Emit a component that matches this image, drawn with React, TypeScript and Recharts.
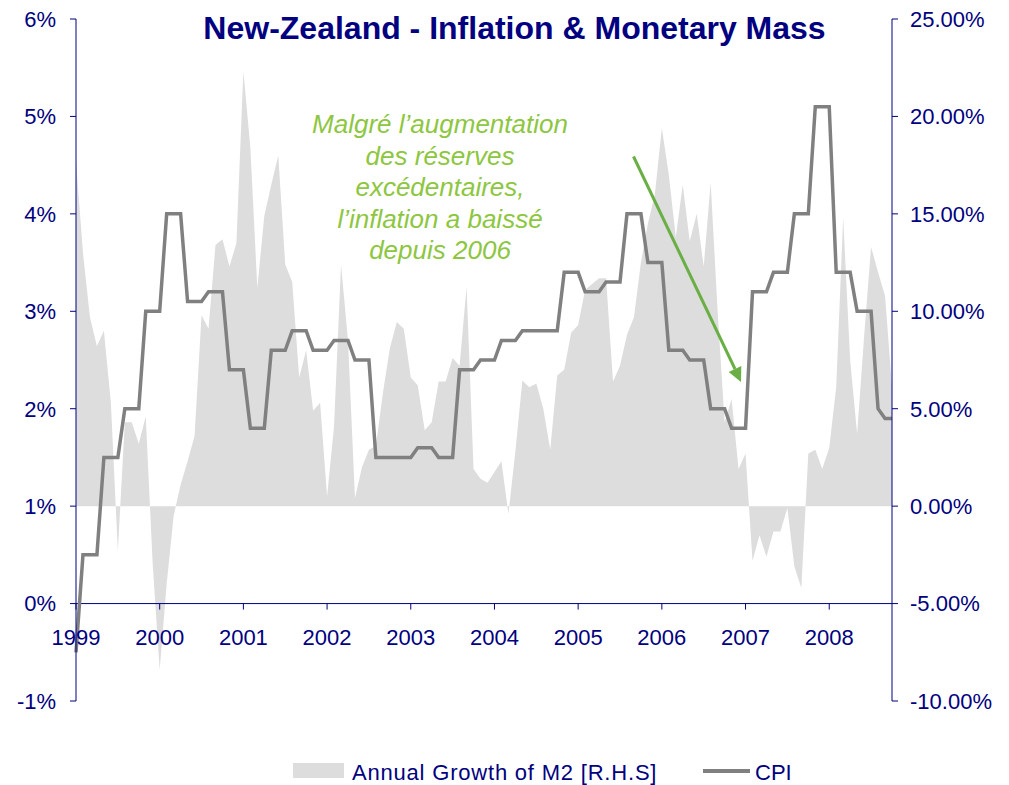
import React from "react";
import {
  ComposedChart,
  Area,
  Line,
  XAxis,
  YAxis,
  ReferenceLine,
} from "recharts";

const NAVY = "#000080";
const FONT = "'Liberation Sans', Arial, sans-serif";

// monthly categories, Jan 1999 .. Oct 2008
const months = Array.from(
  { length: 118 },
  (_, i) => `${1999 + Math.floor(i / 12)}-${String((i % 12) + 1).padStart(2, "0")}`,
);

const years = ["1999", "2000", "2001", "2002", "2003", "2004", "2005", "2006", "2007", "2008"];
const yearTicks = years.map((y) => `${y}-01`);

const cpiTicks = [-1, 0, 1, 2, 3, 4, 5, 6];
const m2Ticks = [-10, -5, 0, 5, 10, 15, 20, 25];

// CPI, % (left axis)
const cpi = [
  -0.5,
  0.5, 0.5, 0.5, 1.5, 1.5, 1.5, 2.0, 2.0, 2.0, 3.0, 3.0, 3.0,
  4.0, 4.0, 4.0, 3.1, 3.1, 3.1, 3.2, 3.2, 3.2, 2.4, 2.4, 2.4,
  1.8, 1.8, 1.8, 2.6, 2.6, 2.6, 2.8, 2.8, 2.8, 2.6, 2.6, 2.6,
  2.7, 2.7, 2.7, 2.5, 2.5, 2.5, 1.5, 1.5, 1.5, 1.5, 1.5, 1.5,
  1.6, 1.6, 1.6, 1.5, 1.5, 1.5, 2.4, 2.4, 2.4, 2.5, 2.5, 2.5,
  2.7, 2.7, 2.7, 2.8, 2.8, 2.8, 2.8, 2.8, 2.8, 3.4, 3.4, 3.4,
  3.2, 3.2, 3.2, 3.3, 3.3, 3.3, 4.0, 4.0, 4.0, 3.5, 3.5, 3.5,
  2.6, 2.6, 2.6, 2.5, 2.5, 2.5, 2.0, 2.0, 2.0, 1.8, 1.8, 1.8,
  3.2, 3.2, 3.2, 3.4, 3.4, 3.4, 4.0, 4.0, 4.0, 5.1, 5.1, 5.1,
  3.4, 3.4, 3.4, 3.0, 3.0, 3.0, 2.0, 1.9, 1.9,
];

// annual growth of M2, % (right axis)
const m2 = [
  17.7, 13.0, 9.7, 8.2, 9.0, 5.3, -2.3, 4.3, 4.3, 3.2, 4.6, -3.0,
  -8.4, -4.0, -0.5, 1.1, 2.3, 3.6, 9.8, 9.1, 13.4, 13.7, 12.3, 13.5,
  22.3, 18.4, 11.2, 14.9, 16.5, 18.0, 12.4, 11.5, 6.6, 8.0, 4.9, 5.3,
  0.5, 4.1, 12.4, 8.5, 0.4, 2.0, 2.9, 3.1, 5.8, 8.1, 9.45, 9.1,
  6.6, 6.2, 3.9, 4.3, 6.4, 6.4, 7.6, 7.2, 11.25, 1.9, 1.4, 1.2,
  1.75, 2.3, -0.4, 2.8, 6.45, 6.1, 6.3, 5.0, 2.9, 6.7, 7.0, 8.9,
  9.3, 11.1, 11.4, 11.7, 11.7, 6.4, 7.2, 8.8, 9.7, 12.5, 14.5, 16.0,
  19.4, 17.0, 13.8, 16.5, 13.6, 15.0, 12.3, 16.6, 10.0, 4.3, 5.5, 1.9,
  2.7, -2.8, -1.5, -2.6, -1.3, -1.3, -0.1, -3.1, -4.2, 2.7, 2.9, 1.9,
  3.0, 6.1, 14.8, 7.5, 3.7, 8.7, 13.3, 12.0, 10.8, 6.1,
];

const data = months.map((month, i) => ({ month, cpi: cpi[i], m2: m2[i] }));

const PLOT_H = 682;

// x labels sit under the 0% line, not under the plot bottom
const YearTick = (props: any) => {
  const { x, y, payload } = props;
  const zeroY = y - PLOT_H / 7;
  return (
    <g>
      <line x1={x} x2={x} y1={zeroY} y2={zeroY + 6} stroke={NAVY} strokeWidth={1} />
      <text
        x={x}
        y={zeroY + 41.5}
        textAnchor="middle"
        fill={NAVY}
        fontSize={22}
        fontFamily={FONT}
      >
        {String(payload.value).slice(0, 4)}
      </text>
    </g>
  );
};

const noteLines = [
  "Malgré l’augmentation",
  "des réserves",
  "excédentaires,",
  "l’inflation a baissé",
  "depuis 2006",
];

export default function App() {
  return (
    <div style={{ position: "absolute", left: 0, top: 0, width: 1009, height: 785, background: "#fff" }}>
      <ComposedChart
        width={1009}
        height={785}
        data={data}
        margin={{ top: 19, right: 1, bottom: 0, left: 0 }}
      >
        <XAxis
          dataKey="month"
          ticks={yearTicks}
          interval={0}
          axisLine={false}
          tickLine={false}
          tickSize={0}
          tickMargin={0}
          height={84}
          tick={<YearTick />}
        />
        <YAxis
          yAxisId="left"
          domain={[-1, 6]}
          ticks={cpiTicks}
          width={76}
          axisLine={{ stroke: NAVY }}
          tickLine={{ stroke: NAVY }}
          tickSize={6}
          tickMargin={14}
          tick={{ fill: NAVY, fontSize: 22, fontFamily: FONT }}
          tickFormatter={(v) => `${v}%`}
        />
        <YAxis
          yAxisId="right"
          orientation="right"
          domain={[-10, 25]}
          ticks={m2Ticks}
          width={116}
          axisLine={{ stroke: NAVY }}
          tickLine={{ stroke: NAVY }}
          tickSize={6}
          tickMargin={12}
          tick={{ fill: NAVY, fontSize: 22, fontFamily: FONT, textAnchor: "start" }}
          tickFormatter={(v) => `${Number(v).toFixed(2)}%`}
        />
        <Area
          yAxisId="right"
          type="linear"
          dataKey="m2"
          fill="#DDDDDD"
          fillOpacity={1}
          stroke="none"
          isAnimationActive={false}
        />
        <ReferenceLine yAxisId="left" y={0} stroke={NAVY} strokeWidth={1} />
        <Line
          yAxisId="left"
          type="linear"
          dataKey="cpi"
          stroke="#808080"
          strokeWidth={3.5}
          dot={false}
          isAnimationActive={false}
        />
      </ComposedChart>

      <svg
        width={1009}
        height={785}
        style={{ position: "absolute", left: 0, top: 0, pointerEvents: "none" }}
      >
        <text
          x={514.5}
          y={39}
          textAnchor="middle"
          fill={NAVY}
          fontSize={32}
          fontWeight="bold"
          fontFamily={FONT}
        >
          New-Zealand - Inflation &amp; Monetary Mass
        </text>

        {noteLines.map((t, i) => (
          <text
            key={t}
            x={440}
            y={133 + i * 31.6}
            textAnchor="middle"
            fill="#8DC63F"
            fontSize={26}
            fontStyle="italic"
            fontFamily={FONT}
          >
            {t}
          </text>
        ))}

        <line x1={633.5} y1={156.5} x2={735} y2={369} stroke="#6AAF45" strokeWidth={3} />
        <polygon points="741,382 741.3,366 728.7,372" fill="#6AAF45" />

        <rect x={293} y={763} width={51} height={15} fill="#DDDDDD" />
        <text x={352} y={780} fill={NAVY} fontSize={22} fontFamily={FONT} letterSpacing={0.8}>
          Annual Growth of M2 [R.H.S]
        </text>
        <line x1={703} x2={750} y1={771} y2={771} stroke="#808080" strokeWidth={4} />
        <text x={755} y={780} fill={NAVY} fontSize={22} fontFamily={FONT}>
          CPI
        </text>
      </svg>
    </div>
  );
}
